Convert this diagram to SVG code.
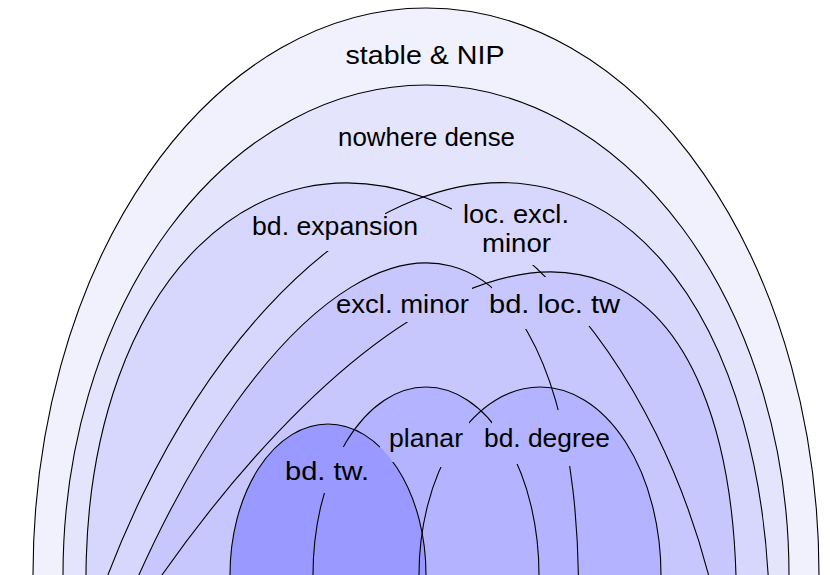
<svg xmlns="http://www.w3.org/2000/svg" width="839" height="575" viewBox="0 0 839 575">
<style>
.ln{fill:none;stroke:#000;stroke-width:1.1}
.lb{font-family:"Liberation Sans",Arial,sans-serif;font-size:26.5px;fill:#000;text-anchor:middle}
</style>
<defs>
<ellipse id="sA" cx="426" cy="575" rx="393" ry="567"/>
<ellipse id="sB" cx="426" cy="575" rx="363" ry="490"/>
<ellipse id="sC" cx="410.2" cy="674.8" rx="313.5" ry="498.7" transform="rotate(-12.3 410.2 674.8)"/>
<ellipse id="sD" cx="402.8" cy="792.6" rx="346.7" ry="621.6" transform="rotate(13.45 402.8 792.6)"/>
<ellipse id="sE" cx="291.8" cy="882.5" rx="246.3" ry="636.7" transform="rotate(14.47 291.8 882.5)"/>
<ellipse id="sF" cx="269.6" cy="1108.1" rx="349.3" ry="891.6" transform="rotate(22.18 269.6 1108.1)"/>
<ellipse id="sG" cx="426" cy="575" rx="113" ry="188"/>
<ellipse id="sH" cx="540" cy="575" rx="121" ry="188"/>
<ellipse id="sI" cx="328" cy="575" rx="98" ry="151"/>
<clipPath id="kC"><path clip-rule="evenodd" d="M-10,-10H850V650H-10Z M452,195H540V265H452Z M530,277H600V326H530Z"/></clipPath>
<clipPath id="kD"><path clip-rule="evenodd" d="M-10,-10H850V650H-10Z M310,200H385V251H310Z"/></clipPath>
<clipPath id="kE"><path clip-rule="evenodd" d="M-10,-10H850V650H-10Z M492,270H540V329H492Z M545,410H590V466H545Z"/></clipPath>
<clipPath id="kF"><path clip-rule="evenodd" d="M-10,-10H850V650H-10Z M380,280H472V322H380Z"/></clipPath>
<clipPath id="kG"><path clip-rule="evenodd" d="M-10,-10H850V650H-10Z M310,447H360V493H310Z M492,410H530V464H492Z"/></clipPath>
<clipPath id="kH"><path clip-rule="evenodd" d="M-10,-10H850V650H-10Z M425,410H469V467H425Z"/></clipPath>
<clipPath id="kI"><path clip-rule="evenodd" d="M-10,-10H850V650H-10Z M380,440H400V462H380Z"/></clipPath>
</defs>
<rect width="839" height="575" fill="#fff"/>
<g id="regions">
<g id="stable-nip"><use href="#sA" fill="#f1f1fe"/></g>
<g id="nowhere-dense"><use href="#sB" fill="#e4e4fd"/></g>
<g id="bd-expansion"><use href="#sC" fill="#d7d7fd"/></g>
<g id="loc-excl-minor"><use href="#sD" fill="#d7d7fd"/></g>
<g id="excl-minor"><use href="#sE" fill="#c7c7fe"/></g>
<g id="bd-loc-tw"><use href="#sF" fill="#c7c7fe"/></g>
<g id="planar"><use href="#sG" fill="#b3b3ff"/></g>
<g id="bd-degree"><use href="#sH" fill="#b3b3ff"/></g>
<g id="bd-tw"><use href="#sI" fill="#9999ff"/></g>
</g>
<g id="outlines" class="ln">
<use href="#sA"/>
<use href="#sB"/>
<use href="#sC" clip-path="url(#kC)"/>
<use href="#sD" clip-path="url(#kD)"/>
<use href="#sE" clip-path="url(#kE)"/>
<use href="#sF" clip-path="url(#kF)"/>
<use href="#sG" clip-path="url(#kG)"/>
<use href="#sH" clip-path="url(#kH)"/>
<use href="#sI" clip-path="url(#kI)"/>
</g>
<g id="labels" class="lb">
<text id="t-stable" x="425" y="64" textLength="159" lengthAdjust="spacingAndGlyphs">stable &amp; NIP</text>
<text id="t-nowhere" x="426.5" y="146" textLength="177" lengthAdjust="spacingAndGlyphs">nowhere dense</text>
<text id="t-bdexp" x="335" y="235" textLength="166" lengthAdjust="spacingAndGlyphs">bd. expansion</text>
<text id="t-locexcl1" x="516" y="223" textLength="106" lengthAdjust="spacingAndGlyphs">loc. excl.</text>
<text id="t-locexcl2" x="516.5" y="252" textLength="69" lengthAdjust="spacingAndGlyphs">minor</text>
<text id="t-exclminor" x="402.5" y="313" textLength="133" lengthAdjust="spacingAndGlyphs">excl. minor</text>
<text id="t-bdloctw" x="554.5" y="313" textLength="131" lengthAdjust="spacingAndGlyphs">bd. loc. tw</text>
<text id="t-planar" x="426" y="447" textLength="74" lengthAdjust="spacingAndGlyphs">planar</text>
<text id="t-bddeg" x="547" y="447" textLength="126" lengthAdjust="spacingAndGlyphs">bd. degree</text>
<text id="t-bdtw" x="327" y="480" textLength="84" lengthAdjust="spacingAndGlyphs">bd. tw.</text>
</g>
</svg>
